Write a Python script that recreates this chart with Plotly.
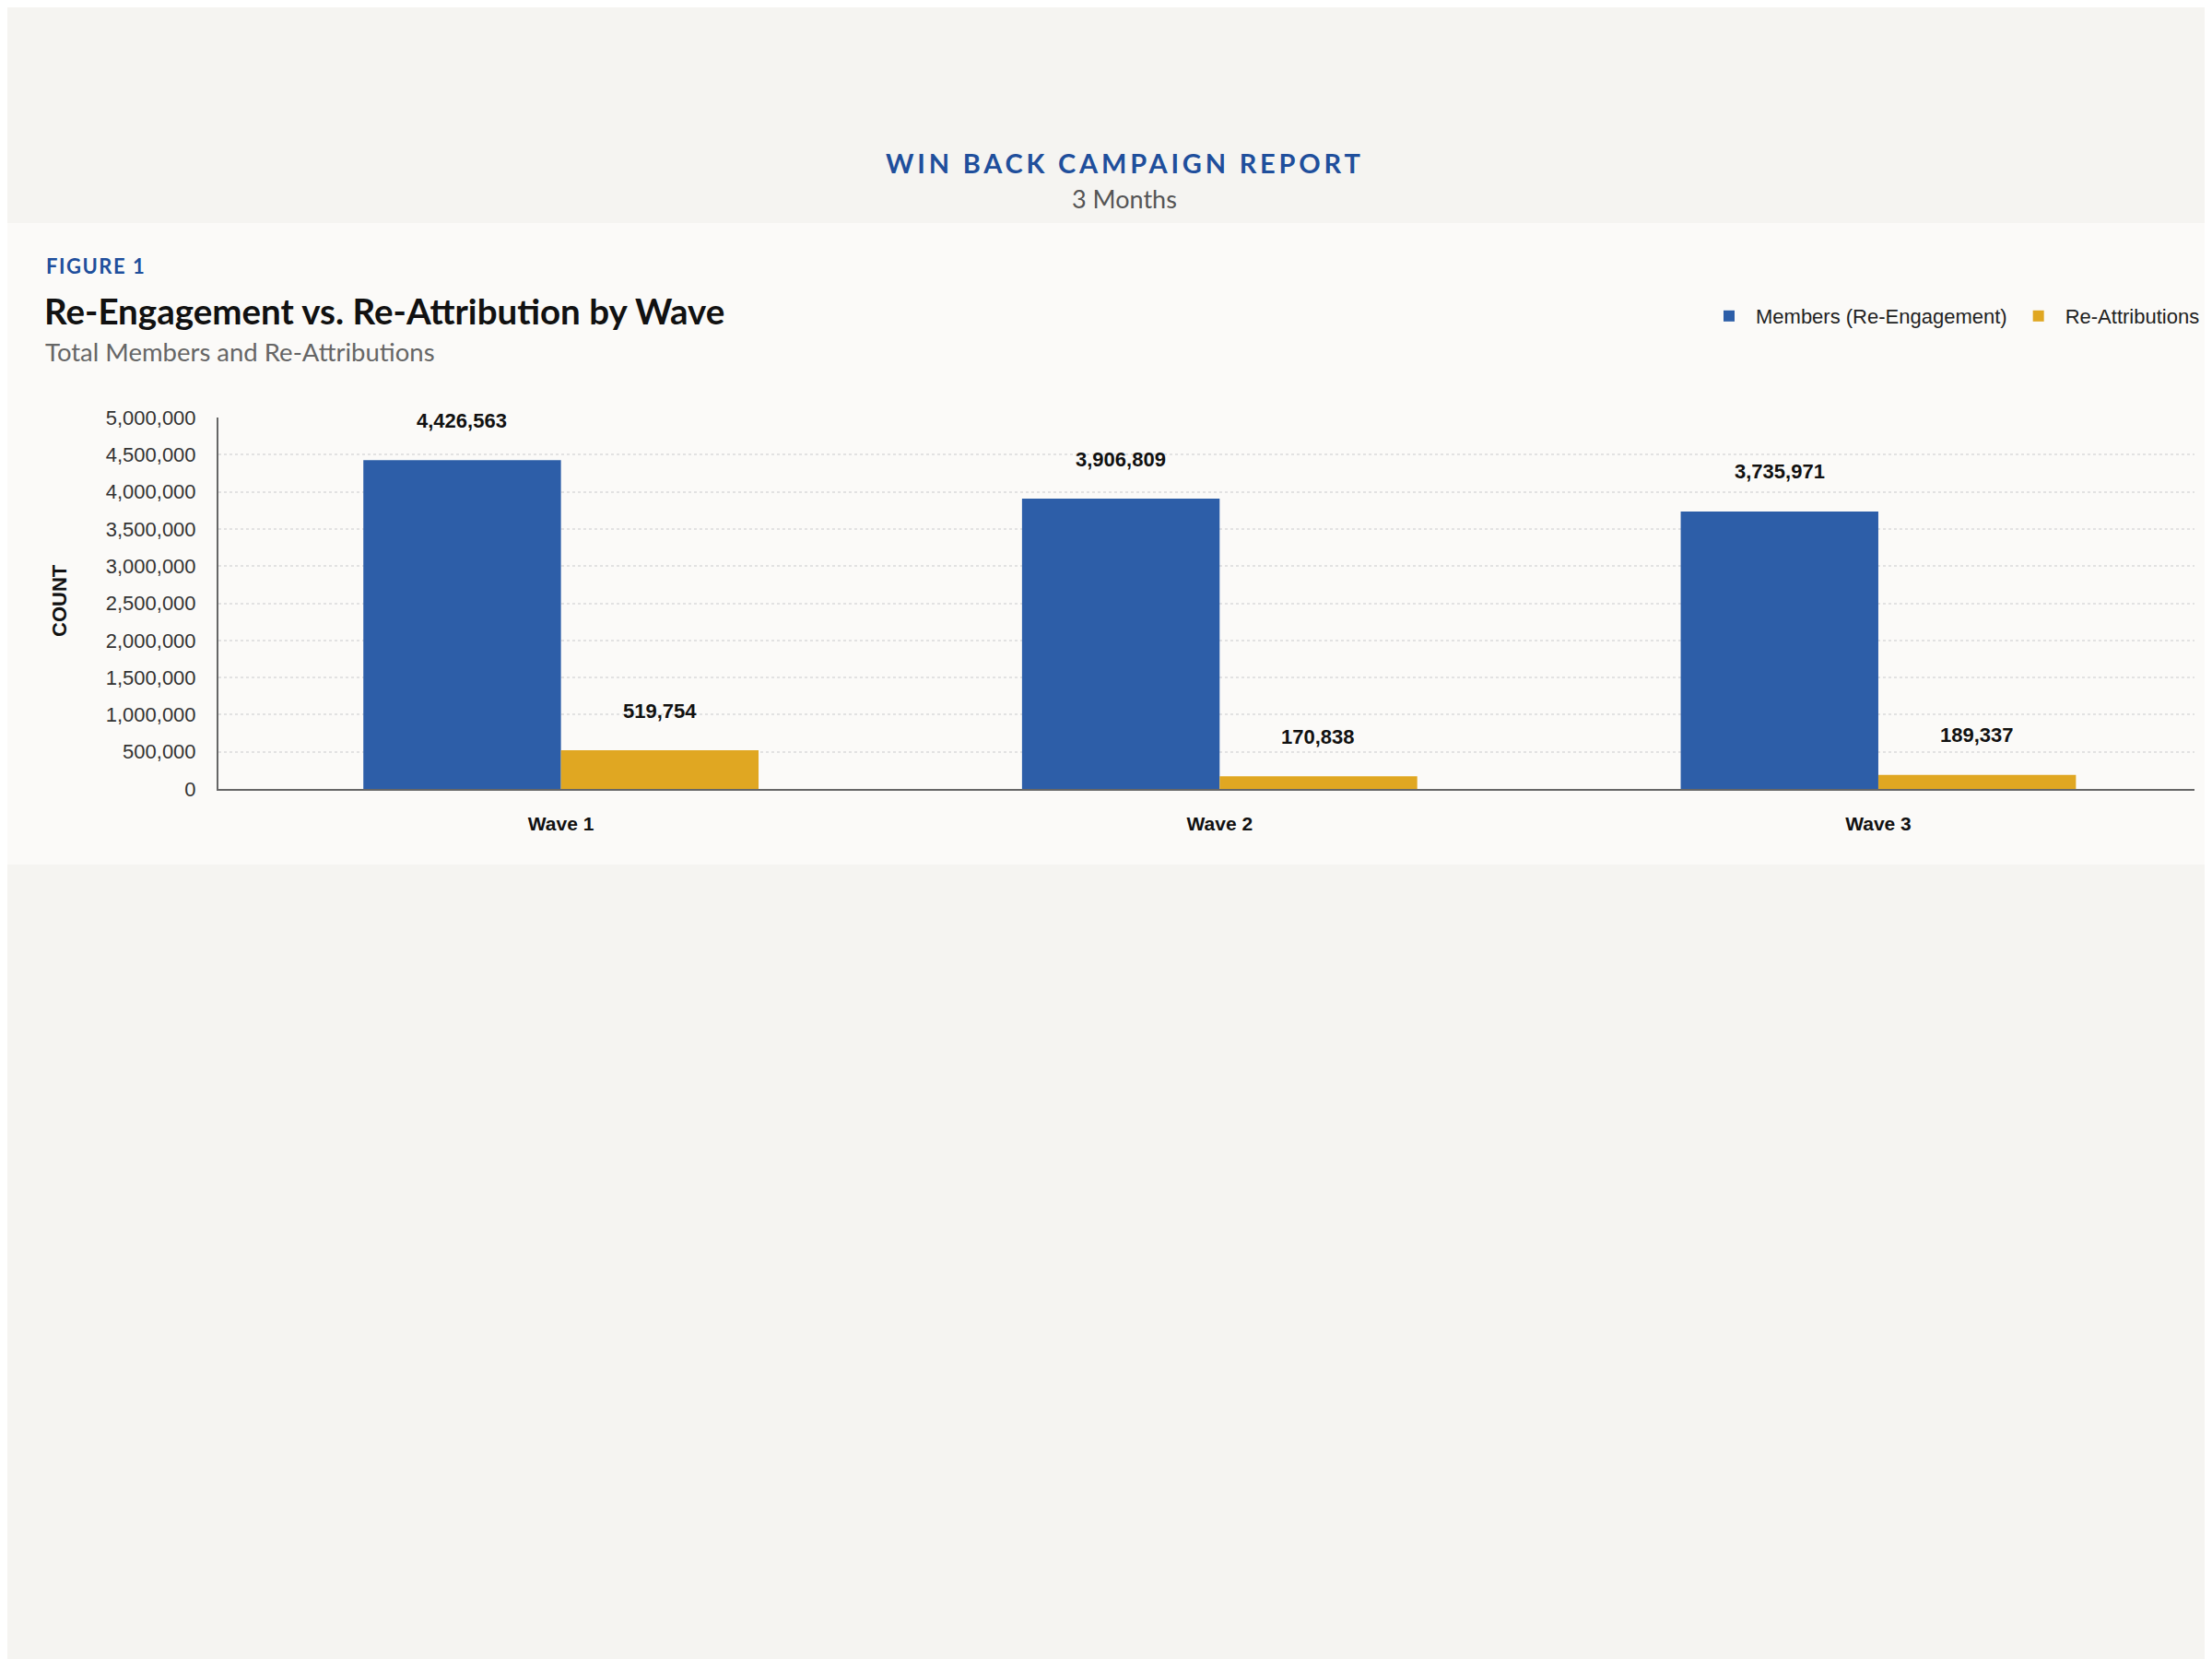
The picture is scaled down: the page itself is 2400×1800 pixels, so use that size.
import plotly.graph_objects as go

# data
waves = ["Wave 1", "Wave 2", "Wave 3"]
members = [4426563, 3906809, 3735971]
reattributions = [519754, 170838, 189337]
y_ticks = [0, 500000, 1000000, 1500000, 2000000, 2500000, 3000000, 3500000, 4000000, 4500000, 5000000]

BLUE = "#2d5ea8"
GOLD = "#e0a722"
HEAD_BLUE = "#1f4f9c"
PAGE_BG = "#f5f4f1"
CARD_BG = "#fbfaf8"

W, H = 2400, 1800
OFF = 8  # page body margin in the browser
# plot area in screen pixels
X0, X1, Y0, Y1 = 237, 2381, 453, 856
L, R, T, B = X0 - OFF, W - (X1 - OFF), Y0 - OFF, H - (Y1 - OFF)
PW = X1 - X0
PH = Y1 - Y0

# screen pixels -> paper coords
def px(x):
    return (x - X0) / PW

def py(y):
    return (Y1 - y) / PH

BARGAP = 0.4
cat_w = PW / len(waves)
bar_off = cat_w * (1 - BARGAP) / 4

fig = go.Figure()
fig.add_trace(go.Bar(x=waves, y=members, name="Members (Re-Engagement)",
                     marker=dict(color=BLUE, line=dict(width=0))))
fig.add_trace(go.Bar(x=waves, y=reattributions, name="Re-Attributions",
                     marker=dict(color=GOLD, line=dict(width=0))))

LAB = dict(size=22, color="#111", family="Liberation Sans")
ann = []
for w, m, r in zip(waves, members, reattributions):
    ann.append(dict(x=w, y=m, xref="x", yref="y", text=f"<b>{m:,}</b>", showarrow=False,
                    xanchor="center", yanchor="middle", xshift=-bar_off, yshift=43, font=LAB))
    ann.append(dict(x=w, y=r, xref="x", yref="y", text=f"<b>{r:,}</b>", showarrow=False,
                    xanchor="center", yanchor="middle", xshift=bar_off, yshift=43, font=LAB))

def note(x, y, text, size, color, xanchor="left", angle=0, family="Lato"):
    return dict(x=px(x), y=py(y), xref="paper", yref="paper", showarrow=False, text=text,
                xanchor=xanchor, yanchor="middle", textangle=angle,
                font=dict(size=size, color=color, family=family))

ann += [
    note(1220, 176, "<span style='letter-spacing:3.8px'><b>WIN BACK CAMPAIGN REPORT</b></span>",
         29, HEAD_BLUE, "center"),
    note(1220, 216, "3 Months", 27, "#555", "center"),
    note(48, 288, "<span style='letter-spacing:1.5px'><b>FIGURE 1</b></span>", 22, HEAD_BLUE),
    note(46, 337, "<b>Re-Engagement vs. Re-Attribution by Wave</b>", 38.5, "#111"),
    note(47, 381, "Total Members and Re-Attributions", 27.5, "#666"),
    note(64, 652, "<b>COUNT</b>", 22, "#111", "center", -90, "Liberation Sans"),
]

fig.update_layout(
    width=W, height=H,
    margin=dict(l=L, r=R, t=T, b=B),
    paper_bgcolor=PAGE_BG,
    plot_bgcolor="rgba(0,0,0,0)",
    barmode="group", bargap=BARGAP, bargroupgap=0,
    font=dict(family="Liberation Sans", size=20, color="#333"),
    showlegend=True,
    legend=dict(orientation="h", x=px(2392), xanchor="right", y=py(343), yanchor="middle",
                font=dict(size=22, color="#222"), bgcolor="rgba(0,0,0,0)", traceorder="normal",
                itemwidth=48),
    annotations=ann,
    shapes=[dict(type="rect", xref="paper", yref="paper", x0=px(4), x1=px(2396), y0=py(938), y1=py(242),
                 fillcolor=CARD_BG, line=dict(width=0), layer="below")],
)
fig.update_xaxes(range=[-0.52, 2.48], showline=True, linecolor="#666", linewidth=2, ticks="", showgrid=False,
                 tickfont=dict(size=21, color="#111"), ticklabelstandoff=18,
                 tickvals=waves, ticktext=[f"<b>{w}</b>" for w in waves])
fig.update_yaxes(range=[0, 5000000], tickvals=y_ticks, tickformat=",", showline=True, linecolor="#666",
                 linewidth=2, showgrid=True, gridcolor="#e2e2e2", griddash="dot", gridwidth=1.5,
                 zeroline=False, ticks="", tickfont=dict(size=22, color="#333"), ticklabelstandoff=18)

fig.write_html("out.html")
